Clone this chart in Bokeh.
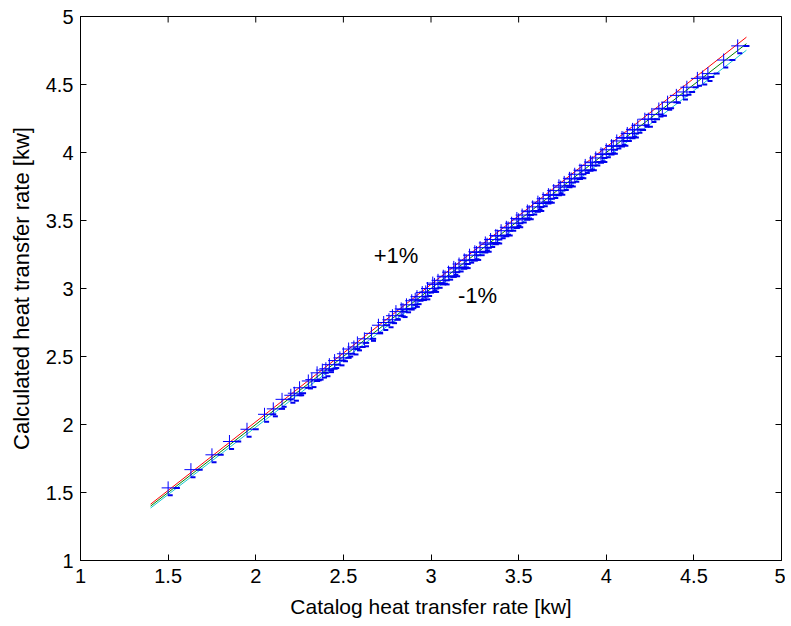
import math
from bokeh.plotting import figure
from bokeh.models import ColumnDataSource, FixedTicker, Range1d
from bokeh.transform import dodge
from bokeh.core.properties import value
from bokeh.embed import file_html
from bokeh.resources import INLINE

# ---- data ----
catalog = [1.50, 1.63, 1.75, 1.85, 1.95, 2.05, 2.10, 2.15, 2.20, 2.25, 2.30, 2.35, 2.38, 2.42,
           2.45, 2.50, 2.53, 2.58, 2.62, 2.70, 2.73, 2.78, 2.80, 2.83, 2.86, 2.89, 2.92, 2.95,
           2.98, 3.01, 3.04, 3.07, 3.10, 3.13, 3.16, 3.19, 3.22, 3.25, 3.28, 3.31, 3.34, 3.37,
           3.40, 3.43, 3.46, 3.49, 3.52, 3.55, 3.58, 3.61, 3.64, 3.67, 3.70, 3.73, 3.76, 3.79,
           3.82, 3.85, 3.88, 3.91, 3.94, 3.97, 4.00, 4.03, 4.06, 4.09, 4.12, 4.15, 4.18, 4.22,
           4.26, 4.30, 4.35, 4.40, 4.46, 4.52, 4.58, 4.67, 4.75,
           2.22, 2.32, 2.40, 2.48, 2.56, 2.66, 2.76, 2.84, 2.91, 2.97, 3.02, 3.08, 3.14, 3.20,
           3.26, 3.32, 3.38, 3.44, 3.50, 3.56, 3.62, 3.68, 3.74, 3.80, 3.86, 3.92, 3.98, 4.04,
           4.10, 4.16, 4.24, 4.32, 4.44, 4.55]
calculated = [1.534, 1.668, 1.777, 1.875, 1.965, 2.075, 2.115, 2.185, 2.215, 2.27, 2.32, 2.38, 2.40, 2.44,
              2.47, 2.52, 2.555, 2.60, 2.63, 2.73, 2.75, 2.80, 2.83, 2.85, 2.88, 2.91, 2.94, 2.97,
              3.00, 3.04, 3.06, 3.09, 3.12, 3.155, 3.18, 3.21, 3.245, 3.27, 3.30, 3.335, 3.36, 3.39,
              3.425, 3.45, 3.48, 3.515, 3.54, 3.57, 3.60, 3.635, 3.66, 3.69, 3.72, 3.755, 3.78, 3.81,
              3.84, 3.87, 3.905, 3.93, 3.96, 3.99, 4.02, 4.05, 4.085, 4.11, 4.14, 4.17, 4.20, 4.245,
              4.28, 4.32, 4.37, 4.42, 4.48, 4.545, 4.58, 4.68, 4.784,
              2.23, 2.33, 2.41, 2.49, 2.57, 2.67, 2.77, 2.845, 2.92, 2.975, 3.03, 3.085, 3.145, 3.205,
              3.265, 3.325, 3.385, 3.445, 3.505, 3.565, 3.625, 3.685, 3.745, 3.805, 3.865, 3.925, 3.985, 4.045,
              4.105, 4.165, 4.245, 4.325, 4.445, 4.555]

line_x = [1.4, 4.8]
plus1_y = [1.414, 4.848]
exact_y = [1.4, 4.8]
minus1_y = [1.386, 4.752]

ticks = [1, 1.5, 2, 2.5, 3, 3.5, 4, 4.5, 5]
tick_labels = {1: "1", 1.5: "1.5", 2: "2", 2.5: "2.5", 3: "3", 3.5: "3.5", 4: "4", 4.5: "4.5", 5: "5"}

note_x = [2.80, 3.265]
note_y = [3.24, 2.945]
note_text = ["+1%", "-1%"]

FONT = "Liberation Sans"
X0, X1, Y0, Y1 = 1, 5, 1, 5

p = figure(width=785, height=620, output_backend="svg", toolbar_location=None,
           x_range=Range1d(X0, X1), y_range=Range1d(Y0, Y1),
           min_border_left=80, min_border_right=4, min_border_top=16, min_border_bottom=55)
p.background_fill_color = "white"
p.border_fill_color = "white"
p.outline_line_color = "black"
p.outline_line_width = 1
p.grid.visible = False

for ax in (p.xaxis[0], p.yaxis[0]):
    ax.ticker = FixedTicker(ticks=ticks)
    ax.major_label_overrides = tick_labels
    ax.major_tick_in = 6
    ax.major_tick_out = 0
    ax.minor_tick_in = 0
    ax.minor_tick_out = 0
    ax.axis_line_color = "black"
    ax.major_tick_line_color = "black"
    ax.major_label_text_font = FONT
    ax.major_label_text_font_size = "20px"
    ax.major_label_text_color = "black"
    ax.axis_label_text_font = FONT
    ax.axis_label_text_font_style = "normal"
    ax.axis_label_text_color = "black"

p.xaxis[0].axis_label = "Catalog heat transfer rate [kw]"
p.xaxis[0].axis_label_text_font_size = "21px"
p.yaxis[0].axis_label = "Calculated heat transfer rate [kw]"
p.yaxis[0].axis_label_text_font_size = "22px"
p.xaxis[0].major_label_standoff = 8
p.xaxis[0].axis_label_standoff = 9
p.yaxis[0].major_label_standoff = 7
p.yaxis[0].axis_label_standoff = 9

# inward ticks on the top and right edges (box on)
p.scatter(x=ticks, y=[Y1] * len(ticks), marker="dash", angle=math.pi / 2, size=12,
          line_color="black", line_width=1)
p.scatter(x=[X1] * len(ticks), y=ticks, marker="dash", size=12,
          line_color="black", line_width=1)

# fit lines
p.line(line_x, exact_y, line_color="#008000", line_width=1)
p.line(line_x, minus1_y, line_color="#18C8D0", line_width=1)
p.line(line_x, plus1_y, line_color="#FF0000", line_width=1)

src = ColumnDataSource(data=dict(x=catalog, y=calculated))
p.scatter(x="x", y="y", source=src, marker="cross", size=13, line_color="#0000FF", line_width=1)
p.scatter(x=dodge("x", 0.05, range=p.x_range), y="y", source=src, marker="dash", size=6,
          line_color="#0000EE", line_width=2)
p.scatter(x=dodge("x", 0.012, range=p.x_range), y=dodge("y", -0.055, range=p.y_range), source=src,
          marker="dash", size=5, line_color="#0000EE", line_width=2)

p.text(x=note_x, y=note_y, text=note_text, text_font=value(FONT), text_font_size="22px",
       text_color="black", text_align="center", text_baseline="middle")

open("out.html", "w").write(file_html(p, INLINE))
